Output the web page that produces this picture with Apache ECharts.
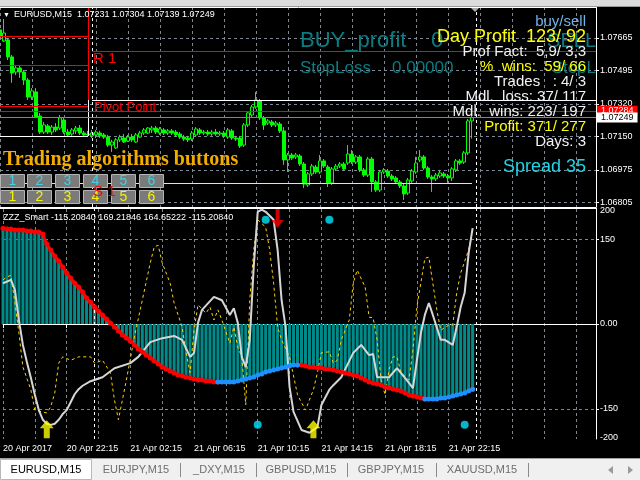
<!DOCTYPE html>
<html><head><meta charset="utf-8">
<script src="https://cdn.jsdelivr.net/npm/echarts@6/dist/echarts.min.js"></script>
<style>html,body{margin:0;padding:0;background:#000;}#c{width:640px;height:480px;}</style>
</head><body><div id="c"></div>
<script>
// ---------- DATA ----------
const openP = [1.07707,1.07649,1.07655,1.07566,1.07487,1.07508,1.07487,1.07445,1.07356,1.07383,
1.07257,1.07173,1.07205,1.07173,1.07199,1.07194,1.07236,1.07173,1.07163,1.07179,
1.07194,1.07168,1.07163,1.07153,1.07158,1.07168,1.07158,1.07147,1.07105,1.07090,
1.07132,1.07142,1.07126,1.07147,1.07121,1.07147,1.07168,1.07168,1.07184,1.07194,
1.07168,1.07184,1.07168,1.07179,1.07173,1.07163,1.07147,1.07142,1.07137,1.07158,
1.07184,1.07168,1.07173,1.07163,1.07173,1.07163,1.07168,1.07147,1.07179,1.07142,
1.07142,1.07105,1.07210,1.07262,1.07304,1.07335,1.07247,1.07220,1.07226,1.07210,
1.07215,1.07179,1.07027,1.07053,1.07043,1.07048,1.07006,1.06896,1.06954,1.06990,
1.06964,1.07022,1.06990,1.06907,1.06980,1.06995,1.07006,1.07011,1.07058,1.07016,
1.07043,1.06975,1.06948,1.07032,1.06912,1.06870,1.06964,1.06969,1.06943,1.06933,
1.06912,1.06891,1.06854,1.06917,1.06964,1.07027,1.07043,1.06985,1.06938,1.06928,
1.06943,1.06954,1.06943,1.06933,1.06975,1.07022,1.07016,1.07064,1.07231];
const closeP = [1.07675,1.07691,1.07566,1.07482,1.07508,1.07487,1.07445,1.07356,1.07388,1.07252,
1.07173,1.07210,1.07173,1.07199,1.07184,1.07247,1.07173,1.07158,1.07184,1.07194,
1.07168,1.07158,1.07158,1.07168,1.07173,1.07153,1.07147,1.07105,1.07121,1.07132,
1.07147,1.07121,1.07147,1.07132,1.07158,1.07168,1.07184,1.07194,1.07194,1.07173,
1.07189,1.07168,1.07179,1.07168,1.07158,1.07147,1.07137,1.07132,1.07168,1.07189,
1.07168,1.07173,1.07163,1.07173,1.07163,1.07168,1.07153,1.07184,1.07142,1.07137,
1.07100,1.07210,1.07273,1.07304,1.07341,1.07247,1.07210,1.07231,1.07210,1.07220,
1.07179,1.07027,1.07053,1.07037,1.07053,1.07006,1.06901,1.06954,1.06995,1.06964,
1.07022,1.06995,1.06907,1.06980,1.06995,1.07006,1.06980,1.07058,1.07016,1.07043,
1.06975,1.06948,1.07032,1.06912,1.06870,1.06964,1.06975,1.06943,1.06928,1.06912,
1.06891,1.06849,1.06922,1.06969,1.07011,1.07043,1.06985,1.06938,1.06928,1.06948,
1.06959,1.06943,1.06933,1.06980,1.07022,1.07011,1.07064,1.07231,1.07249];
const lowP = [1.07665,1.07644,1.07550,1.07430,1.07471,1.07456,1.07419,1.07341,1.07341,1.07247,
1.07163,1.07163,1.07163,1.07158,1.07173,1.07184,1.07163,1.07147,1.07153,1.07163,
1.07158,1.07153,1.07147,1.07142,1.07142,1.07142,1.07137,1.07095,1.07069,1.07084,
1.07121,1.07116,1.07121,1.07121,1.07116,1.07142,1.07158,1.07163,1.07168,1.07163,
1.07158,1.07158,1.07158,1.07158,1.07147,1.07137,1.07126,1.07121,1.07126,1.07147,
1.07158,1.07158,1.07153,1.07153,1.07153,1.07153,1.07142,1.07137,1.07132,1.07126,
1.07090,1.07095,1.07199,1.07252,1.07294,1.07236,1.07184,1.07210,1.07199,1.07199,
1.07168,1.07001,1.06964,1.07027,1.07032,1.06995,1.06880,1.06886,1.06943,1.06954,
1.06954,1.06985,1.06886,1.06896,1.06969,1.06985,1.06969,1.07001,1.07006,1.07006,
1.06964,1.06938,1.06938,1.06860,1.06860,1.06860,1.06954,1.06933,1.06917,1.06901,
1.06880,1.06818,1.06844,1.06907,1.06954,1.07016,1.06975,1.06928,1.06860,1.06917,
1.06933,1.06933,1.06907,1.06917,1.06964,1.07001,1.07006,1.07053,1.07139];
const highP = [1.07717,1.07764,1.07665,1.07576,1.07524,1.07524,1.07498,1.07456,1.07403,1.07403,
1.07273,1.07226,1.07215,1.07210,1.07220,1.07262,1.07247,1.07189,1.07194,1.07205,
1.07210,1.07179,1.07179,1.07184,1.07184,1.07179,1.07168,1.07158,1.07132,1.07142,
1.07158,1.07163,1.07158,1.07163,1.07168,1.07179,1.07194,1.07199,1.07205,1.07205,
1.07199,1.07194,1.07189,1.07189,1.07184,1.07173,1.07158,1.07153,1.07179,1.07199,
1.07194,1.07184,1.07184,1.07184,1.07189,1.07179,1.07179,1.07194,1.07189,1.07153,
1.07153,1.07220,1.07283,1.07315,1.07383,1.07346,1.07257,1.07241,1.07236,1.07231,
1.07226,1.07199,1.07064,1.07064,1.07064,1.07058,1.07016,1.06964,1.07006,1.07001,
1.07053,1.07032,1.07001,1.06990,1.07006,1.07016,1.07016,1.07105,1.07079,1.07053,
1.07053,1.06985,1.07043,1.07043,1.06922,1.06975,1.06985,1.06980,1.06954,1.06943,
1.06922,1.06901,1.06933,1.06980,1.07043,1.07079,1.07053,1.06995,1.06948,1.06959,
1.06975,1.06964,1.06954,1.06990,1.07032,1.07032,1.07074,1.07241,1.07304];

// indicator: thick trend line (also histogram)
const trendValues = [169.2,167.6,167.6,165.9,165.9,165.9,164.1,164.1,162.4,162.4,
158.8,141.2,130.6,120.0,111.2,100.6,90.0,81.2,72.4,65.3,
56.5,45.9,38.8,30.0,22.9,15.9,8.8,1.8,-5.3,-12.4,
-19.4,-24.7,-30.0,-37.1,-44.1,-49.4,-54.7,-60.0,-65.3,-70.6,
-75.9,-79.4,-82.9,-86.5,-90.0,-91.8,-93.5,-95.3,-97.1,-98.8,
-98.8,-100.6,-100.6,-102.4,-102.4,-102.4,-102.4,-102.4,-102.4,-100.6,
-98.8,-97.1,-95.3,-93.5,-90.0,-88.2,-84.7,-82.9,-81.2,-79.4,
-77.6,-75.9,-74.1,-72.4,-72.4,-72.4,-74.1,-75.9,-75.9,-77.6,
-77.6,-79.4,-79.4,-81.2,-82.9,-84.7,-86.5,-88.2,-90.0,-91.8,
-95.3,-98.8,-102.4,-104.1,-105.9,-107.6,-111.2,-112.9,-114.7,-116.5,
-118.2,-121.8,-125.3,-127.1,-128.8,-130.6,-132.4,-132.4,-132.4,-132.4,
-130.6,-130.6,-128.8,-127.1,-125.3,-123.5,-121.8,-118.2,-115.2];
const blueRanges = [[54,74],[106,118]];

// white oscillator line [barIndex, value]
const whiteLine = [[0,72],[2,78],[3,60],[4,7],[5,-37],[6,-67],[7,-95],[8,-125],[9,-152],[10,-169],
[11,-176],[12,-178],[13,-176],[14,-169],[15,-159],[16,-152],[17,-138],[18,-124],[19,-115],[20,-109],
[22,-101],[25,-94],[28,-78],[32,-69],[34,-58],[37,-32],[40,-25],[43,-21],[45,-28],[47,-58],
[48,-51],[49,2],[50,25],[53,48],[55,42],[57,16],[58,28],[59,2],[60,-58],[61,-76],
[62,-28],[63,101],[64,198],[65,202],[66,198],[68,184],[69,131],[70,42],[71,-5],[72,-111],
[73,-155],[75,-187],[77,-192],[79,-182],[80,-143],[82,-116],[83,-108],[85,-94],[88,-51],[90,-37],
[92,-55],[93,-53],[94,-94],[97,-94],[99,-78],[102,-104],[103,-113],[104,-64],[105,-16],[106,16],
[107,37],[108,16],[110,-28],[111,-28],[113,-37],[114,-5],[115,30],[116,55],[117,125],[118,169.2]];

// yellow dotted oscillator line [barIndex, value]
const yellowLine = [[0,78],[1,83],[2,86],[3,37],[4,-16],[5,-76],[7,-116],[8,-152],[11,-157],[12,-146],
[13,-122],[14,-69],[15,-58],[17,-64],[19,-58],[22,-58],[23,-69],[25,-64],[27,-86],[28,-134],
[29,-169],[30,-134],[31,-99],[33,-23],[35,42],[37,108],[38,136],[39,139],[40,108],[42,72],
[43,37],[45,-5],[46,-51],[47,-86],[48,-11],[49,34],[51,19],[52,30],[53,7],[54,25],
[55,7],[57,-34],[58,-5],[59,-41],[60,-58],[61,-143],[62,42],[63,131],[64,184],[66,171],
[67,131],[68,72],[69,-5],[70,-28],[72,-58],[74,-125],[76,-152],[78,-116],[79,-86],[80,-51],
[82,-49],[83,-69],[84,-64],[85,-28],[87,7],[88,72],[89,95],[91,65],[92,12],[93,11],
[94,-28],[95,-99],[96,-125],[97,-81],[98,-58],[99,-58],[100,-86],[102,-99],[103,-46],[104,30],
[106,116],[107,118],[108,72],[109,25],[110,-11],[112,-2],[113,-2],[114,55],[115,90],[117,131],[118,164.65]];

const cyanDots = [[66,184],[82,184],[64,-178],[116,-178]];
const sellArrows = [[69,187]];
const buyArrows = [[11,-186],[78,-186]];

// price levels
const prevDayRed = [1.07675, 1.07524, 1.07309];
const prevDayWhite = [1.07152];
const r1Level = 1.07597;
const dayWhiteLevel = 1.07341;
const s1Level = 1.06907;
const askPrice = 1.07284;
const bidPrice = 1.07249;

// axis ticks
const priceTicks = [1.07665, 1.07495, 1.07320, 1.07150, 1.06975, 1.06805];
const oscLabelTicks = [200, 150, 0, -150, -200];
const oscGridTicks = [150, 0, -150];
const timeTickLabels = ['20 Apr 2017','20 Apr 22:15','21 Apr 02:15','21 Apr 06:15','21 Apr 10:15','21 Apr 14:15','21 Apr 18:15','21 Apr 22:15'];
const periodSeparators = [23, 119];
const slotCount = 150;
const startTime = Date.UTC(2017, 3, 20, 18, 15);

// ---------- BUILD ----------
const pad = n => (n < 10 ? '0' : '') + n;
const timeCats = [];
for (let i = 0; i < slotCount; i++) {
  const d = new Date(startTime + i * 15 * 60000);
  timeCats.push(d.getUTCFullYear() + '.' + pad(d.getUTCMonth() + 1) + '.' + pad(d.getUTCDate()) + ' ' + pad(d.getUTCHours()) + ':' + pad(d.getUTCMinutes()));
}
const candles = openP.map((o, i) => [o, closeP[i], lowP[i], highP[i]]);
const isBlue = i => blueRanges.some(r => i >= r[0] && i <= r[1]);
const isEdge = i => blueRanges.some(r => i === r[0] || i === r[1]);
const redData = trendValues.map((v, i) => (!isBlue(i) || isEdge(i)) ? v : null);
const blueData = trendValues.map((v, i) => isBlue(i) ? v : null);
const lastIdx = slotCount - 1;
const leftEnd = 22;
const dataEnd = openP.length - 1;

const GRID = '#7d8893';
const labelInterval = i => i % 16 === 0 && i / 16 < timeTickLabels.length;
const vSplit = { show: true, interval: i => i % 8 === 0, lineStyle: { color: GRID, type: [3, 3], width: 1 } };

function seg(x1, y1, x2, y2, color, type) {
  return [{ coord: [x1, y1], lineStyle: { color: color, width: 1, type: type || 'solid' } }, { coord: [x2, y2] }];
}
const levelLines = [];
prevDayRed.forEach(p => levelLines.push(seg(0, p, leftEnd, p, '#ff0000')));
prevDayWhite.forEach(p => levelLines.push(seg(0, p, leftEnd, p, '#ffffff')));
levelLines.push(seg(leftEnd, 1.07827, leftEnd, prevDayRed[2], '#ff0000'));
levelLines.push(seg(leftEnd, dayWhiteLevel, leftEnd, prevDayWhite[0], '#ffffff'));
levelLines.push(seg(leftEnd + 1, r1Level, lastIdx, r1Level, '#ff0000'));
levelLines.push(seg(leftEnd + 1, dayWhiteLevel, lastIdx, dayWhiteLevel, '#ffffff'));
levelLines.push(seg(0, s1Level, dataEnd, s1Level, '#ffff00'));
const askSeg = seg(0, askPrice, lastIdx, askPrice, '#ff0000');
askSeg[0].label = { show: true, position: 'end', distance: 1, formatter: () => askPrice.toFixed(5), color: '#fff', backgroundColor: '#ff0000', padding: [1, 4, 0, 4], fontSize: 9, fontFamily: 'Liberation Sans' };
levelLines.push(askSeg);
const bidSeg = seg(0, bidPrice, lastIdx, bidPrice, '#778899');
bidSeg[0].label = { show: true, position: 'end', distance: 1, formatter: () => bidPrice.toFixed(5), color: '#000', backgroundColor: '#ffffff', padding: [1, 4, 0, 4], fontSize: 9, fontFamily: 'Liberation Sans' };
levelLines.push(bidSeg);
periodSeparators.forEach(ix => levelLines.push({ xAxis: ix, lineStyle: { color: '#ffffff', type: [3, 3], width: 1 } }));

const FONT = '"Liberation Sans", Arial, sans-serif';
function txt(text, x, y, fill, size, align, extra) {
  return { type: 'text', x: x, y: y, z: 100, silent: true,
    style: Object.assign({ text: text, fill: fill, font: (extra || '') + ' ' + size + 'px ' + FONT,
      align: align || 'left', textAlign: align || 'left', verticalAlign: 'middle', textVerticalAlign: 'middle' }) };
}
function rect(x, y, w, h, fill, stroke, z) {
  return { type: 'rect', z: z || 99, silent: true, shape: { x: x, y: y, width: w, height: h }, style: { fill: fill, stroke: stroke || null, lineWidth: 1 } };
}
function line(x1, y1, x2, y2, color) {
  return { type: 'line', z: 99, silent: true, shape: { x1: x1, y1: y1, x2: x2, y2: y2 }, style: { stroke: color, lineWidth: 1 } };
}

const graphics = [];
// top strip & borders
graphics.push(rect(0, 0, 640, 6, '#dcdcdc'));
graphics.push(line(0, 6.5, 640, 6.5, '#9a9a9a'));
graphics.push(line(0, 7.5, 597, 7.5, '#ffffff'));
graphics.push(line(0, 208.5, 597, 208.5, '#ffffff'));
graphics.push({ type: 'polygon', z: 101, silent: true, shape: { points: [[471, 8], [479, 8], [475, 12]] }, style: { fill: '#a8a8a8' } });
// header
graphics.push(txt('\u25BC', 3, 15, '#ffffff', 7));
graphics.push(txt('EURUSD,M15  1.07231 1.07304 1.07139 1.07249', 14, 15, '#ffffff', 9));
// teal info
const TEAL = '#0b7c82';
graphics.push(txt('BUY_profit', 300, 41, TEAL, 22));
graphics.push(txt('0', 431, 41, TEAL, 22));
graphics.push(txt('SELL', 596, 41, TEAL, 20, 'right'));
graphics.push(txt('StopLoss', 300, 68, TEAL, 17));
graphics.push(txt('0.00000', 392, 68, TEAL, 17));
graphics.push(txt('StopL', 596, 68, TEAL, 17, 'right'));
// stats panel
const RX = 586;
graphics.push(txt('buy/sell', RX, 22, '#6fb2e6', 15, 'right'));
graphics.push(txt('Day Profit  123/ 92', RX, 37, '#ffff00', 18, 'right'));
graphics.push(txt('Prof Fact:  5,9/ 3,3', RX, 52, '#f2f2f2', 15, 'right'));
graphics.push(txt('%  wins:  59/ 66', RX, 67, '#ffff00', 15, 'right'));
graphics.push(txt('Trades   : 4/ 3', RX, 82, '#f2f2f2', 15, 'right'));
graphics.push(txt('Mdl.  loss: 37/ 117', RX, 97, '#f2f2f2', 15, 'right'));
graphics.push(txt('Mdl.  wins: 223/ 197', RX, 112, '#f2f2f2', 15, 'right'));
graphics.push(txt('Profit: 371/ 277', RX, 127, '#ffff00', 15, 'right'));
graphics.push(txt('Days: 3', RX, 142, '#f2f2f2', 15, 'right'));
graphics.push(txt('Spread 35', RX, 167, '#22d3e6', 18, 'right'));
// pivot labels
graphics.push(txt('R 1', 93, 59, '#ff0000', 15));
graphics.push(txt('Pivot Point', 94, 107, '#ff0000', 13));
// title & buttons
graphics.push({ type: 'text', x: 3, y: 160, z: 100, silent: true, style: { text: 'Trading algorithms buttons', fill: '#f2ad00', font: 'bold 20px "Liberation Serif", serif', align: 'left', textAlign: 'left', verticalAlign: 'middle', textVerticalAlign: 'middle' } });
const btnX = [0, 27, 55, 83, 111, 139];
const btnLabels = ['1', '2', '3', '4', '5', '6'];
btnX.forEach((bx, k) => {
  graphics.push(rect(bx + 0.5, 174.5, 24, 13, '#7a7a7a', '#b4b4b4'));
  graphics.push(txt(btnLabels[k], bx + 12.5, 181, '#3fd0e4', 14, 'center'));
  graphics.push(rect(bx + 0.5, 190.5, 24, 13, '#7a7a7a', '#b4b4b4'));
  graphics.push(txt(btnLabels[k], bx + 12.5, 197, '#f5f500', 14, 'center'));
});
graphics.push(txt('S 1', 93, 192, '#ff0000', 15));
// indicator title
graphics.push(txt('ZZZ_Smart -115.20840 169.21846 164.65222 -115.20840', 3, 218, '#ffffff', 9));
// bottom tabs
graphics.push(rect(0, 458, 640, 22, '#f0f0f0', null, 98));
graphics.push(line(0, 458.5, 640, 458.5, '#a0a0a0'));
graphics.push(rect(0.5, 459.5, 91, 20, '#ffffff', '#b8b8b8'));
graphics.push(txt('EURUSD,M15', 46, 470, '#000000', 11, 'center'));
const tabNames = ['EURJPY,M15', '_DXY,M15', 'GBPUSD,M15', 'GBPJPY,M15', 'XAUUSD,M15'];
const tabCenters = [136, 219, 301, 391, 482];
const tabSeps = [180, 256, 347, 436, 528];
tabNames.forEach((n, k) => graphics.push(txt(n, tabCenters[k], 470, '#6e6e6e', 11, 'center')));
tabSeps.forEach(sx => graphics.push(line(sx + 0.5, 463, sx + 0.5, 477, '#8a8a8a')));
graphics.push({ type: 'polygon', z: 101, silent: true, shape: { points: [[613, 466], [613, 474], [608, 470]] }, style: { fill: '#9a9a9a' } });
graphics.push({ type: 'polygon', z: 101, silent: true, shape: { points: [[628, 466], [628, 474], [633, 470]] }, style: { fill: '#9a9a9a' } });

const option = {
  backgroundColor: '#000000',
  animation: false,
  textStyle: { fontFamily: 'Liberation Sans' },
  grid: [
    { left: 0, top: 7, width: 596, height: 200 },
    { left: 0, top: 209, width: 596, height: 230 }
  ],
  xAxis: [
    { type: 'category', gridIndex: 0, data: timeCats, boundaryGap: false,
      axisLine: { show: true, lineStyle: { color: '#ffffff' } }, axisTick: { show: false }, axisLabel: { show: false },
      splitLine: vSplit },
    { type: 'category', gridIndex: 1, data: timeCats, boundaryGap: false,
      axisLine: { show: true, lineStyle: { color: '#ffffff' } },
      axisTick: { show: true, interval: labelInterval, length: 4, lineStyle: { color: '#ffffff' } },
      axisLabel: { show: true, interval: labelInterval, formatter: (v, i) => timeTickLabels[Math.round(i / 16)] || '',
        color: '#ffffff', fontSize: 9, fontFamily: 'Liberation Sans', align: 'left', margin: 5 },
      splitLine: vSplit }
  ],
  yAxis: [
    { type: 'value', gridIndex: 0, position: 'right', min: 1.06781, max: 1.07827,
      axisLine: { show: true, lineStyle: { color: '#ffffff' } },
      axisTick: { show: true, length: 3, customValues: priceTicks, lineStyle: { color: '#ffffff' } },
      axisLabel: { show: true, customValues: priceTicks, formatter: v => v.toFixed(5), color: '#ffffff', fontSize: 9, fontFamily: 'Liberation Sans', margin: 4 },
      splitLine: { show: true, customValues: priceTicks, lineStyle: { color: GRID, type: [3, 3], width: 1 } } },
    { type: 'value', gridIndex: 1, position: 'right', min: -203, max: 203,
      axisLine: { show: true, lineStyle: { color: '#ffffff' } },
      axisTick: { show: true, length: 3, customValues: oscGridTicks, lineStyle: { color: '#ffffff' } },
      axisLabel: { show: true, customValues: oscLabelTicks, formatter: v => (v === 0 ? '0.00' : String(v)), color: '#ffffff', fontSize: 9, fontFamily: 'Liberation Sans', margin: 4 },
      splitLine: { show: true, customValues: oscGridTicks, lineStyle: { color: GRID, type: [3, 3], width: 1 } } }
  ],
  series: [
    { type: 'candlestick', xAxisIndex: 0, yAxisIndex: 0, data: candles, barWidth: 3, z: 3,
      itemStyle: { color: '#000000', color0: '#00ff00', borderColor: '#00ff00', borderColor0: '#00ff00', borderWidth: 1 },
      markLine: { silent: true, symbol: ['none', 'none'], animation: false, label: { show: false }, data: levelLines } },
    { type: 'bar', xAxisIndex: 1, yAxisIndex: 1, data: trendValues, barWidth: 3, z: 1,
      itemStyle: { color: '#008b8b' },
      markLine: { silent: true, symbol: ['none', 'none'], animation: false, label: { show: false },
        data: periodSeparators.map(ix => ({ xAxis: ix, lineStyle: { color: '#ffffff', type: [3, 3], width: 1 } })) } },
    { type: 'line', xAxisIndex: 1, yAxisIndex: 1, data: yellowLine, showSymbol: false, symbol: 'none', z: 3,
      lineStyle: { color: '#ffd200', width: 1, type: [3, 3] } },
    { type: 'line', xAxisIndex: 1, yAxisIndex: 1, data: whiteLine, showSymbol: false, symbol: 'none', z: 4,
      lineStyle: { color: '#d6d6d6', width: 2 } },
    { type: 'line', xAxisIndex: 1, yAxisIndex: 1, data: redData, connectNulls: false, z: 5,
      symbol: 'circle', symbolSize: 5, showAllSymbol: true,
      lineStyle: { color: '#ff0000', width: 3 }, itemStyle: { color: '#ff0000' } },
    { type: 'line', xAxisIndex: 1, yAxisIndex: 1, data: blueData, connectNulls: false, z: 5,
      symbol: 'circle', symbolSize: 5, showAllSymbol: true,
      lineStyle: { color: '#1e90ff', width: 3 }, itemStyle: { color: '#1e90ff' } },
    { type: 'scatter', xAxisIndex: 1, yAxisIndex: 1, data: cyanDots, symbol: 'circle', symbolSize: 8, z: 6,
      itemStyle: { color: '#00e5ff' } },
    { type: 'scatter', xAxisIndex: 1, yAxisIndex: 1, data: sellArrows, z: 6,
      symbol: 'path://M4,0 L8,0 L8,12 L12,12 L6,20 L0,12 L4,12 Z', symbolSize: [12, 20],
      itemStyle: { color: '#ff0000' } },
    { type: 'scatter', xAxisIndex: 1, yAxisIndex: 1, data: buyArrows, z: 6,
      symbol: 'path://M7,0 L14,8 L10,8 L10,18 L4,18 L4,8 L0,8 Z', symbolSize: [14, 18],
      itemStyle: { color: '#ffff00' } }
  ],
  graphic: { elements: graphics }
};

const chart = echarts.init(document.getElementById('c'), null, { renderer: 'canvas' });
chart.setOption(option);
</script>
</body></html>
